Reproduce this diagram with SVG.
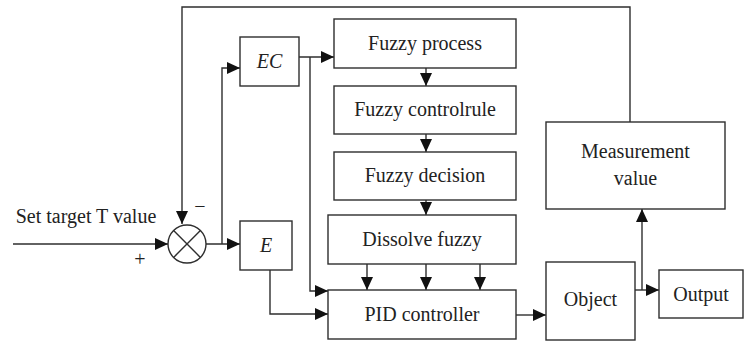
<svg xmlns="http://www.w3.org/2000/svg" width="745" height="343" viewBox="0 0 745 343">
<style>
.box{fill:#fff;stroke:#2e2e2e;stroke-width:1.4}
.ln{fill:none;stroke:#2e2e2e;stroke-width:1.4}
text{font-size:20px;fill:#222;text-anchor:middle}
.i{font-style:italic}
</style>
<defs>
<marker id="ah" viewBox="0 0 13 12" refX="13" refY="6" markerWidth="13" markerHeight="12" markerUnits="userSpaceOnUse" orient="auto">
<path d="M0,0 L13,6 L0,12 Z" fill="#111"/>
</marker>
</defs>
<rect width="745" height="343" fill="#fff"/>
<g id="connectors">
<path class="ln" d="M13,244 H168" marker-end="url(#ah)"/>
<path class="ln" d="M630,122 V7 H182 V224" marker-end="url(#ah)"/>
<path class="ln" d="M206,244 H240" marker-end="url(#ah)"/>
<path class="ln" d="M222,244 V68 H240" marker-end="url(#ah)"/>
<path class="ln" d="M299,57 H334" marker-end="url(#ah)"/>
<path class="ln" d="M310,57 V291 H328" marker-end="url(#ah)"/>
<path class="ln" d="M270,270 V314 H328" marker-end="url(#ah)"/>
<path class="ln" d="M426,68 V86" marker-end="url(#ah)"/>
<path class="ln" d="M426,134 V152" marker-end="url(#ah)"/>
<path class="ln" d="M426,200 V215" marker-end="url(#ah)"/>
<path class="ln" d="M367,264 V290" marker-end="url(#ah)"/>
<path class="ln" d="M426,264 V290" marker-end="url(#ah)"/>
<path class="ln" d="M480,264 V290" marker-end="url(#ah)"/>
<path class="ln" d="M516,315 H546" marker-end="url(#ah)"/>
<path class="ln" d="M635,290 H659" marker-end="url(#ah)"/>
<path class="ln" d="M642,290 V209" marker-end="url(#ah)"/>
</g>
<g font-family="Liberation Serif, Times New Roman, serif">
<g id="input-label">
<text x="86" y="223">Set target T value</text>
<text x="140" y="266">+</text>
<text x="200" y="213">−</text>
</g>
<g id="sum">
<circle cx="187" cy="244" r="19" fill="#fff" stroke="#2e2e2e" stroke-width="1.4"/>
<path class="ln" d="M173.6,230.6 L200.4,257.4 M200.4,230.6 L173.6,257.4"/>
</g>
<g id="ec"><rect class="box" x="240" y="37" width="59" height="49"/><text class="i" x="269.5" y="68">EC</text></g>
<g id="e"><rect class="box" x="240" y="221" width="52" height="49"/><text class="i" x="266" y="252">E</text></g>
<g id="fuzzy-process"><rect class="box" x="334" y="19" width="182" height="49"/><text x="425" y="50">Fuzzy process</text></g>
<g id="fuzzy-controlrule"><rect class="box" x="334" y="86" width="182" height="48"/><text x="425" y="116">Fuzzy controlrule</text></g>
<g id="fuzzy-decision"><rect class="box" x="334" y="152" width="182" height="48"/><text x="425" y="182">Fuzzy decision</text></g>
<g id="dissolve-fuzzy"><rect class="box" x="328" y="215" width="188" height="49"/><text x="422" y="246">Dissolve fuzzy</text></g>
<g id="pid"><rect class="box" x="328" y="290" width="188" height="49"/><text x="422" y="321">PID controller</text></g>
<g id="object"><rect class="box" x="546" y="262" width="89" height="78"/><text x="590.5" y="306">Object</text></g>
<g id="output"><rect class="box" x="659" y="270" width="84" height="48"/><text x="701" y="301">Output</text></g>
<g id="measurement"><rect class="box" x="546" y="122" width="179" height="87"/><text x="635.5" y="158">Measurement</text><text x="635.5" y="185">value</text></g>
</g>
</svg>
